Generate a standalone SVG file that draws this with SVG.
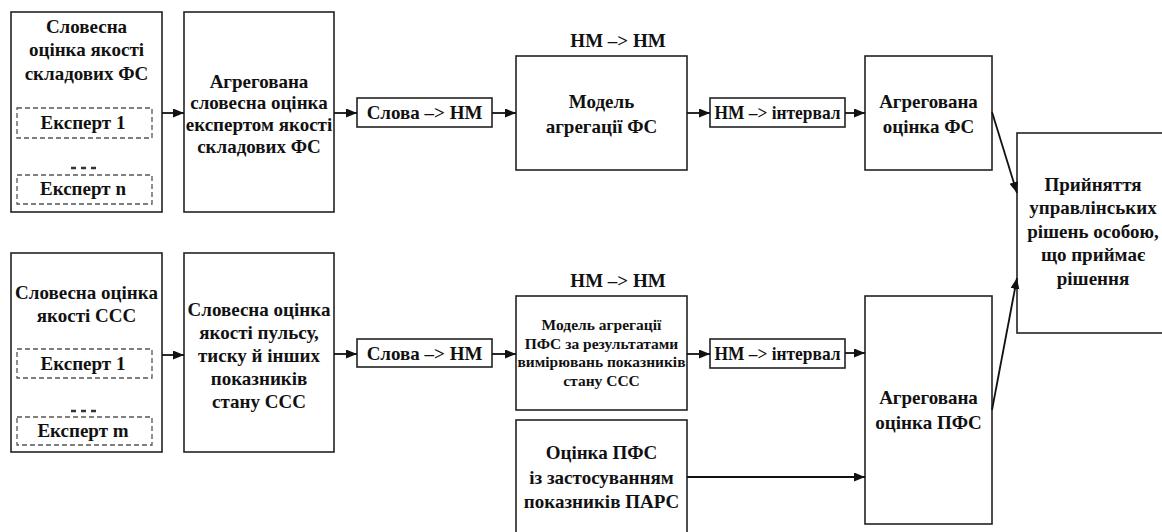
<svg xmlns="http://www.w3.org/2000/svg" width="1162" height="532" viewBox="0 0 1162 532" font-family="'Liberation Serif', 'DejaVu Serif', serif">
  <defs>
    <marker id="arrow" markerUnits="userSpaceOnUse" markerWidth="12" markerHeight="10" refX="11" refY="4.5" orient="auto">
      <path d="M0,0 L11,4.5 L0,9 z" fill="#111"/>
    </marker>
    <style>
      .box { fill: #fff; stroke: #222; stroke-width: 1.6; }
      .dash { fill: none; stroke: #555; stroke-width: 1.3; stroke-dasharray: 5 3; }
      text { font-family: 'Liberation Serif', 'DejaVu Serif', serif; }
      .t { font-weight: bold; font-size: 19px; fill: #111; text-anchor: middle; }
      .s { font-size: 15.5px; }
      .conn line { stroke: #111; stroke-width: 1.8; marker-end: url(#arrow); }
    </style>
  </defs>
  <rect width="1162" height="532" fill="#fff"/>

  <!-- upper branch -->
  <g id="verbal-fs">
    <rect class="box" x="11" y="12" width="151" height="200"/>
    <text class="t" x="86.5" y="33">Словесна</text>
    <text class="t" x="86.5" y="56">оцінка якості</text>
    <text class="t" x="86.5" y="80">складових ФС</text>
    <rect class="dash" x="17" y="108" width="135" height="30"/>
    <text class="t" x="83" y="129">Експерт 1</text>
    <line x1="71" y1="168" x2="98" y2="168" stroke="#333" stroke-width="2.5" stroke-dasharray="5 5"/>
    <rect class="dash" x="17" y="175" width="135" height="29"/>
    <text class="t" x="83" y="195">Експерт n</text>
  </g>
  <g id="aggregated-verbal-fs">
    <rect class="box" x="184" y="12" width="150" height="200"/>
    <text class="t" x="259" y="88">Агрегована</text>
    <text class="t" x="259" y="109">словесна оцінка</text>
    <text class="t" x="259" y="131">експертом якості</text>
    <text class="t" x="259" y="153">складових ФС</text>
  </g>
  <g id="words-to-fn-1">
    <rect class="box" x="357" y="98" width="135" height="29"/>
    <text class="t" x="424.5" y="119">Слова –&gt; НМ</text>
  </g>
  <g id="model-fs">
    <text class="t" x="618" y="47">НМ –&gt; НМ</text>
    <rect class="box" x="516" y="56" width="171" height="114"/>
    <text class="t" x="601.5" y="108">Модель</text>
    <text class="t" x="601.5" y="133">агрегації ФС</text>
  </g>
  <g id="fn-to-interval-1">
    <rect class="box" x="710" y="98" width="135" height="29"/>
    <text class="t" x="777.5" y="119" textLength="126" lengthAdjust="spacingAndGlyphs">НМ –&gt; інтервал</text>
  </g>
  <g id="aggregated-fs">
    <rect class="box" x="865" y="56" width="127" height="114"/>
    <text class="t" x="928.5" y="108">Агрегована</text>
    <text class="t" x="928.5" y="133">оцінка ФС</text>
  </g>

  <!-- decision -->
  <g id="decision">
    <rect class="box" x="1017" y="133" width="160" height="200"/>
    <text class="t" x="1093" y="191">Прийняття</text>
    <text class="t" x="1093" y="214">управлінських</text>
    <text class="t" x="1093" y="238">рішень особою,</text>
    <text class="t" x="1093" y="261">що приймає</text>
    <text class="t" x="1093" y="285">рішення</text>
  </g>

  <!-- lower branch -->
  <g id="verbal-cvs">
    <rect class="box" x="11" y="253" width="151" height="199"/>
    <text class="t" x="86.5" y="299">Словесна оцінка</text>
    <text class="t" x="86.5" y="322">якості ССС</text>
    <rect class="dash" x="17" y="349" width="135" height="29"/>
    <text class="t" x="83" y="370">Експерт 1</text>
    <line x1="71" y1="411" x2="98" y2="411" stroke="#333" stroke-width="2.5" stroke-dasharray="5 5"/>
    <rect class="dash" x="17" y="417" width="135" height="28"/>
    <text class="t" x="83" y="437">Експерт m</text>
  </g>
  <g id="verbal-indicators">
    <rect class="box" x="184" y="253" width="150" height="199"/>
    <text class="t" x="259" y="316">Словесна оцінка</text>
    <text class="t" x="259" y="339">якості пульсу,</text>
    <text class="t" x="259" y="362">тиску й інших</text>
    <text class="t" x="259" y="385">показників</text>
    <text class="t" x="259" y="408">стану ССС</text>
  </g>
  <g id="words-to-fn-2">
    <rect class="box" x="357" y="339" width="135" height="28"/>
    <text class="t" x="424.5" y="360">Слова –&gt; НМ</text>
  </g>
  <g id="model-pfs">
    <text class="t" x="618" y="287">НМ –&gt; НМ</text>
    <rect class="box" x="516" y="296" width="171" height="114"/>
    <text class="t s" x="601.5" y="330">Модель агрегації</text>
    <text class="t s" x="601.5" y="349">ПФС за результатами</text>
    <text class="t s" x="601.5" y="367" textLength="168" lengthAdjust="spacingAndGlyphs">вимірювань показників</text>
    <text class="t s" x="601.5" y="386">стану ССС</text>
  </g>
  <g id="fn-to-interval-2">
    <rect class="box" x="710" y="339" width="135" height="29"/>
    <text class="t" x="777.5" y="360" textLength="126" lengthAdjust="spacingAndGlyphs">НМ –&gt; інтервал</text>
  </g>
  <g id="pars-estimate">
    <rect class="box" x="516" y="420" width="171" height="120"/>
    <text class="t" x="601.5" y="459">Оцінка ПФС</text>
    <text class="t" x="601.5" y="484">із застосуванням</text>
    <text class="t" x="601.5" y="508">показників ПАРС</text>
  </g>
  <g id="aggregated-pfs">
    <rect class="box" x="865" y="296" width="127" height="228"/>
    <text class="t" x="928.5" y="404">Агрегована</text>
    <text class="t" x="928.5" y="429">оцінка ПФС</text>
  </g>

  <!-- connectors -->
  <g id="connectors" class="conn">
    <line x1="162" y1="113" x2="184" y2="113"/>
    <line x1="334" y1="113" x2="357" y2="113"/>
    <line x1="492" y1="113" x2="516" y2="113"/>
    <line x1="687" y1="113" x2="710" y2="113"/>
    <line x1="845" y1="113" x2="865" y2="113"/>
    <line x1="992" y1="112" x2="1017" y2="193"/>
    <line x1="162" y1="355" x2="184" y2="355"/>
    <line x1="334" y1="354" x2="357" y2="354"/>
    <line x1="492" y1="354" x2="516" y2="354"/>
    <line x1="687" y1="354" x2="710" y2="354"/>
    <line x1="845" y1="353" x2="865" y2="353"/>
    <line x1="687" y1="477" x2="865" y2="477"/>
    <line x1="992" y1="410" x2="1017" y2="278"/>
  </g>
</svg>
